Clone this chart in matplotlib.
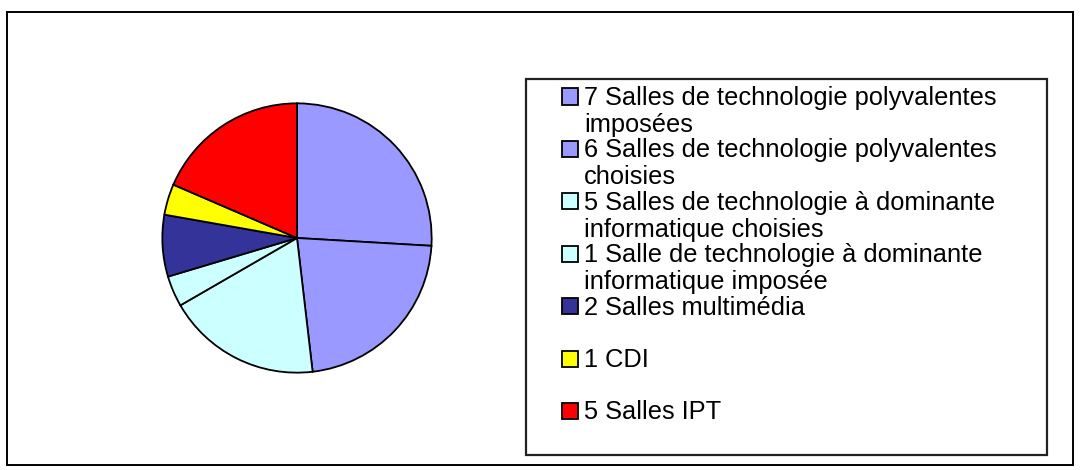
import matplotlib
matplotlib.use("Agg")
import matplotlib.pyplot as plt
from matplotlib.patches import Rectangle

plt.rcParams["font.family"] = ["Liberation Sans", "DejaVu Sans"]

# values (room counts)
labels = [
    "7 Salles de technologie polyvalentes\nimposées",
    "6 Salles de technologie polyvalentes\nchoisies",
    "5 Salles de technologie à dominante\ninformatique choisies",
    "1 Salle de technologie à dominante\ninformatique imposée",
    "2 Salles multimédia",
    "1 CDI",
    "5 Salles IPT",
]
counts = [7, 6, 5, 1, 2, 1, 5]
colors = ["#9999FF", "#9999FF", "#CCFFFF", "#CCFFFF", "#333399", "#FFFF00", "#FF0000"]

W, H = 1083, 470
fig = plt.figure(figsize=(W / 100, H / 100), dpi=100)


def fx(px):
    return px / W


def fy(py):
    return 1 - py / H


# outer frame
fig.patches.append(Rectangle((fx(7), fy(465)), fx(1073) - fx(7), fy(12) - fy(465),
                             transform=fig.transFigure, fill=False,
                             edgecolor="black", linewidth=1.4))

# pie
cx, cy, r = 297, 238, 136
ax = fig.add_axes([fx(cx - r), fy(cy + r), 2 * r / W, 2 * r / H])
ax.pie(counts, colors=colors, startangle=90, counterclock=False,
       wedgeprops=dict(edgecolor="black", linewidth=1.3))
ax.set_xlim(-1.01, 1.01)
ax.set_ylim(-1.01, 1.01)
ax.set_aspect("equal")
ax.axis("off")

# legend box
fig.patches.append(Rectangle((fx(526), fy(455)), fx(1047) - fx(526), fy(79) - fy(455),
                             transform=fig.transFigure, fill=False,
                             edgecolor="#222222", linewidth=1.6))

# legend entries, drawn by hand so the wrapped lines overlap like the original
y0, step, line_h = 96.5, 52.4, 27
for i, (lab, col) in enumerate(zip(labels, colors)):
    yc = y0 + i * step
    fig.patches.append(Rectangle((fx(562), fy(yc + 8)), 16 / W, 16 / H,
                                 transform=fig.transFigure, facecolor=col,
                                 edgecolor="black", linewidth=1.3))
    for j, part in enumerate(lab.split("\n")):
        fig.text(fx(584), fy(yc + 8.5 + j * line_h), part, fontsize=18.3,
                 ha="left", va="baseline", color="black")

fig.savefig("out.png", dpi=100)
